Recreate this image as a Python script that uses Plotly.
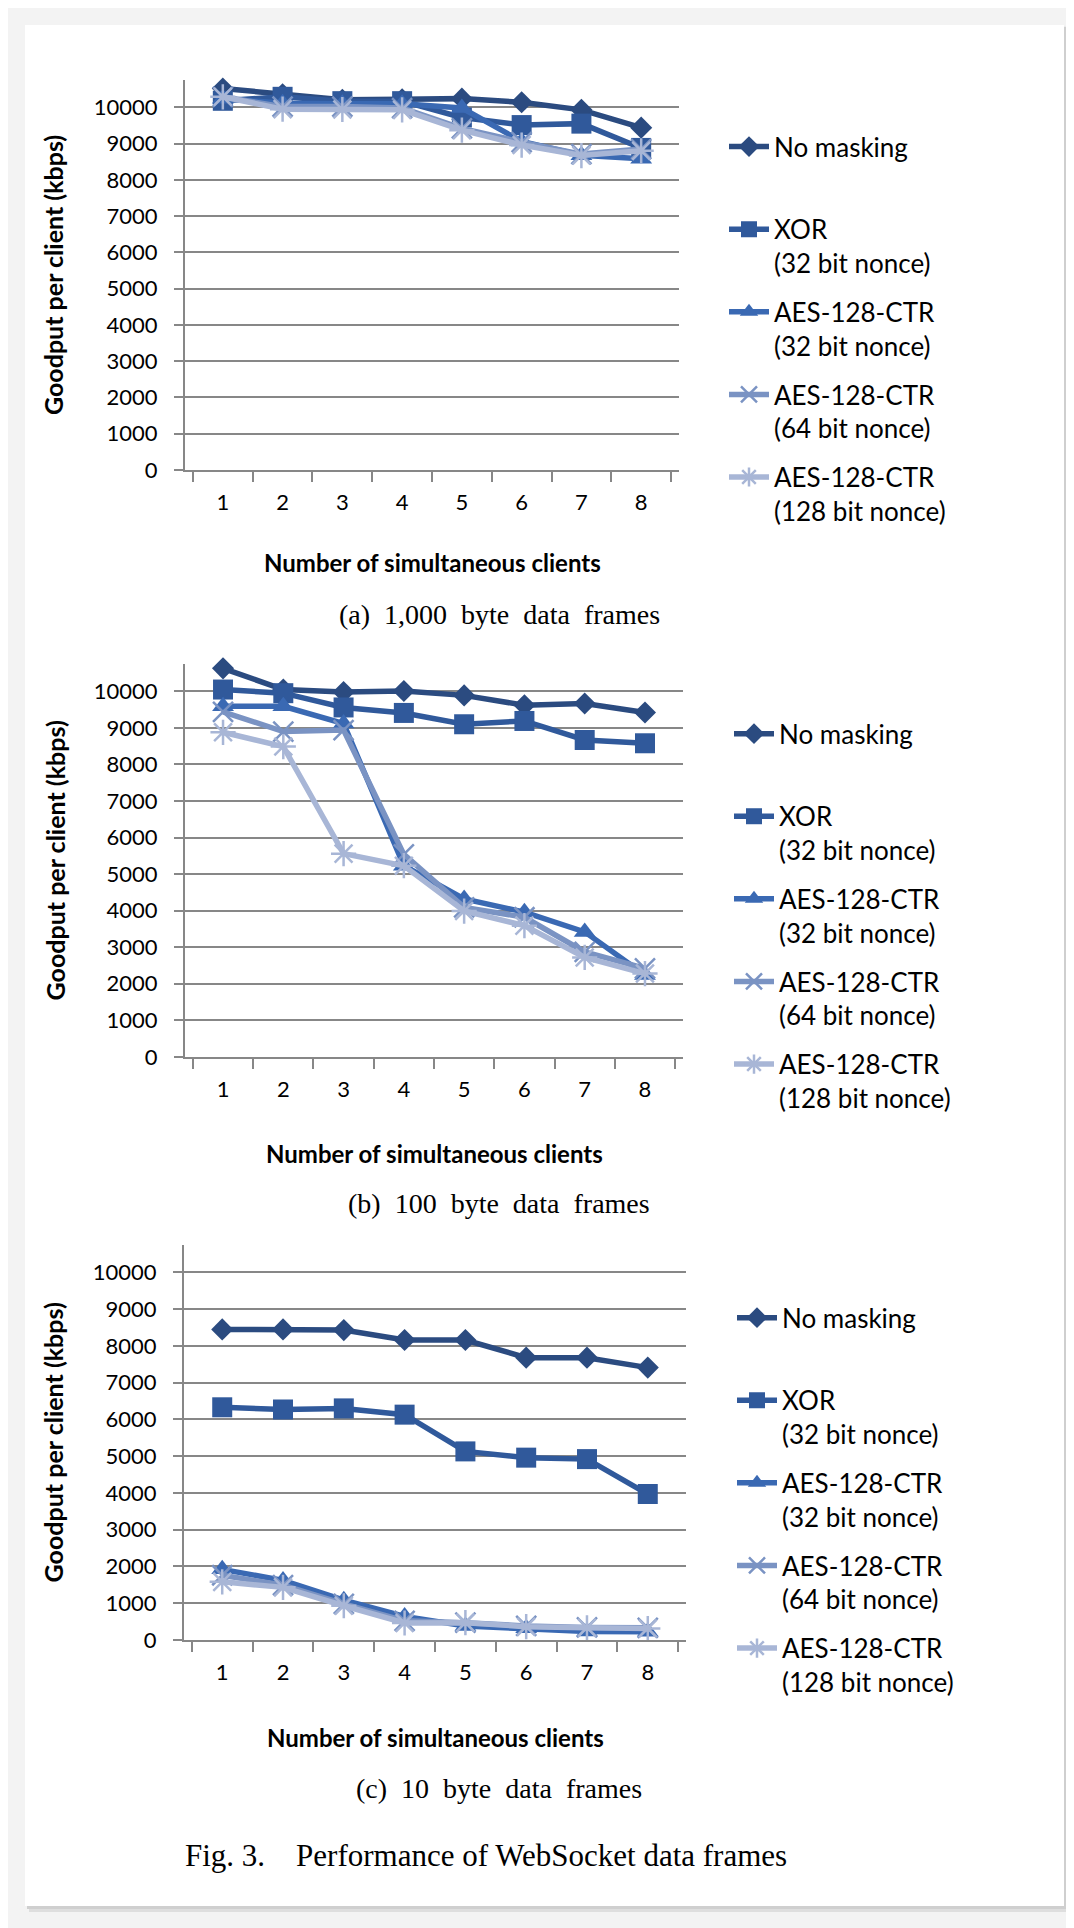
import plotly.graph_objects as go

W, H = 1074, 1928

clients = ["1", "2", "3", "4", "5", "6", "7", "8"]
series_names = ["No masking", "XOR<br>(32 bit nonce)", "AES-128-CTR<br>(32 bit nonce)",
                "AES-128-CTR<br>(64 bit nonce)", "AES-128-CTR<br>(128 bit nonce)"]
y_ticks = [0, 1000, 2000, 3000, 4000, 5000, 6000, 7000, 8000, 9000, 10000]
y_tick_text = [str(v) for v in y_ticks]

# (a) 1,000 byte data frames
a_nomask = [10520, 10360, 10210, 10220, 10240, 10140, 9930, 9440]
a_xor    = [10180, 10290, 10170, 10170, 9720, 9510, 9550, 8880]
a_aes32  = [10240, 10110, 10100, 10100, 9980, 9060, 8680, 8580]
a_aes64  = [10290, 10020, 10020, 9980, 9420, 9040, 8710, 8850]
a_aes128 = [10290, 9950, 9940, 9930, 9370, 8960, 8670, 8800]

# (b) 100 byte data frames
b_nomask = [10630, 10050, 9980, 10010, 9890, 9620, 9670, 9420]
b_xor    = [10050, 9950, 9560, 9410, 9100, 9190, 8670, 8580]
b_aes32  = [9590, 9590, 9120, 5230, 4320, 3960, 3420, 2240]
b_aes64  = [9440, 8900, 8940, 5540, 4090, 3820, 2870, 2420]
b_aes128 = [8880, 8490, 5560, 5230, 3990, 3590, 2720, 2280]

# (c) 10 byte data frames
c_nomask = [8450, 8450, 8430, 8160, 8160, 7680, 7680, 7410]
c_xor    = [6330, 6270, 6300, 6130, 5130, 4960, 4920, 3970]
c_aes32  = [1920, 1620, 1080, 640, 380, 320, 230, 220]
c_aes64  = [1760, 1490, 980, 520, 470, 380, 340, 330]
c_aes128 = [1580, 1430, 930, 460, 470, 360, 330, 310]

panels = [
    dict(data=[a_nomask, a_xor, a_aes32, a_aes64, a_aes128], x0=177, x1=671, y0=465,
         ppk=36.5, legend="legend", ly=148, lx=772, xt_y=558, yt_x=45,
         cap="(a)\u00a0 1,000\u00a0 byte\u00a0 data\u00a0 frames", cap_y=611),
    dict(data=[b_nomask, b_xor, b_aes32, b_aes64, b_aes128], x0=177, x1=675, y0=1056,
         ppk=36.8, legend="legend2", ly=739, lx=777, xt_y=1153, yt_x=47,
         cap="(b)\u00a0 100\u00a0 byte\u00a0 data\u00a0 frames", cap_y=1204),
    dict(data=[c_nomask, c_xor, c_aes32, c_aes64, c_aes128], x0=176, x1=678, y0=1643,
         ppk=37.0, legend="legend3", ly=1327, lx=780, xt_y=1741, yt_x=45,
         cap="(c)\u00a0 10\u00a0 byte\u00a0 data\u00a0 frames", cap_y=1793),
]

colors = ["#2b4b80", "#30599b", "#3a69b3", "#7a93c3", "#a8b6d6"]
symbols = ["diamond", "square", "triangle-up", "x-thin-open", "asterisk-open"]
msizes = [17, 20, 19, 20, 21]

GRID = "#878787"
FONT = "Lato, 'Open Sans', sans-serif"
SERIF = "'Liberation Serif', 'DejaVu Serif', serif"
YMAX = 10750

fig = go.Figure()
layout = dict(
    width=W, height=H,
    margin=dict(l=0, r=0, t=0, b=0),
    paper_bgcolor="#f3f3f3",
    plot_bgcolor="white",
    showlegend=True,
    font=dict(family=FONT, color="black"),
)

shapes = [
    dict(type="rect", xref="paper", yref="paper", x0=21 / W, x1=1062 / W,
         y0=1 - 1917 / H, y1=1 - 21 / H, fillcolor="#dedede", line_width=0, layer="below"),
    dict(type="rect", xref="paper", yref="paper", x0=19 / W, x1=1059 / W,
         y0=1 - 1914 / H, y1=1 - 19 / H, fillcolor="#cfcfcf", line_width=0, layer="below"),
    dict(type="rect", xref="paper", yref="paper", x0=17 / W, x1=1056 / W,
         y0=1 - 1911 / H, y1=1 - 17 / H, fillcolor="white", line_width=0, layer="below"),
]
annotations = []

for i, p in enumerate(panels):
    k = "" if i == 0 else str(i + 1)
    xa, ya = "x" + k, "y" + k
    top_px = p["y0"] - YMAX / 1000 * p["ppk"]
    for j in range(5):
        sym = symbols[j]
        marker = dict(symbol=sym, size=msizes[j], color=colors[j])
        if sym.endswith("open"):
            marker["line"] = dict(color=colors[j], width=2.5)
        fig.add_trace(go.Scatter(
            x=clients, y=p["data"][j], mode="lines+markers",
            name=series_names[j] if j > 0 else "No masking<br>\u00a0",
            line=dict(color=colors[j], width=5.5),
            marker=marker, xaxis=xa, yaxis=ya, legend=p["legend"],
            legendgroup=p["legend"] + str(j), cliponaxis=False,
        ))
    layout["xaxis" + k] = dict(
        domain=[p["x0"] / W, p["x1"] / W], anchor=ya, type="category",
        categoryorder="array", categoryarray=clients,
        tickson="boundaries", ticks="outside", ticklen=10, tickwidth=2, tickcolor=GRID,
        showline=True, linecolor=GRID, linewidth=2, showgrid=False, zeroline=False,
        tickfont=dict(family=FONT, size=22, color="black"), ticklabelstandoff=12,
        fixedrange=True,
    )
    layout["yaxis" + k] = dict(
        domain=[1 - p["y0"] / H, 1 - top_px / H], anchor=xa, range=[0, YMAX],
        tickvals=y_ticks, ticktext=y_tick_text, ticks="outside", ticklen=9, tickwidth=2,
        tickcolor=GRID, showline=True, linecolor=GRID, linewidth=2, showgrid=True,
        gridcolor=GRID, gridwidth=2, zeroline=False,
        tickfont=dict(family=FONT, size=22, color="black"),
        ticklabelstandoff=12, fixedrange=True,
    )
    layout[p["legend"]] = dict(
        x=(p["lx"] - 56) / W, xanchor="left", y=1 - (p["ly"] - 32) / H, yanchor="top",
        valign="top", tracegroupgap=12, bgcolor="rgba(0,0,0,0)", itemwidth=40,
        font=dict(family=FONT, size=26, color="black"), traceorder="grouped",
    )
    annotations.append(dict(
        text="<b>Goodput per client (kbps)</b>", xref="paper", yref="paper",
        x=p["yt_x"] / W, y=1 - (p["y0"] + top_px) / 2 / H, textangle=-90,
        showarrow=False, font=dict(family=FONT, size=25, color="black"),
        xanchor="center", yanchor="middle",
    ))
    annotations.append(dict(
        text="<b>Number of simultaneous clients</b>", xref="paper", yref="paper",
        x=(p["x0"] + p["x1"]) / 2 / W, y=1 - p["xt_y"] / H, showarrow=False,
        font=dict(family=FONT, size=24, color="black"), xanchor="center", yanchor="middle",
    ))
    annotations.append(dict(
        text=p["cap"], xref="paper", yref="paper", x=491 / W, y=1 - p["cap_y"] / H,
        showarrow=False, font=dict(family=SERIF, size=28, color="black"),
        xanchor="center", yanchor="middle",
    ))

annotations.append(dict(
    text="Fig. 3.\u00a0\u00a0\u00a0 Performance of WebSocket data frames", xref="paper", yref="paper",
    x=478 / W, y=1 - 1860 / H, showarrow=False,
    font=dict(family=SERIF, size=31, color="black"),
    xanchor="center", yanchor="middle",
))

layout["shapes"] = shapes
layout["annotations"] = annotations
fig.update_layout(**layout)
fig.write_html("out.html")
